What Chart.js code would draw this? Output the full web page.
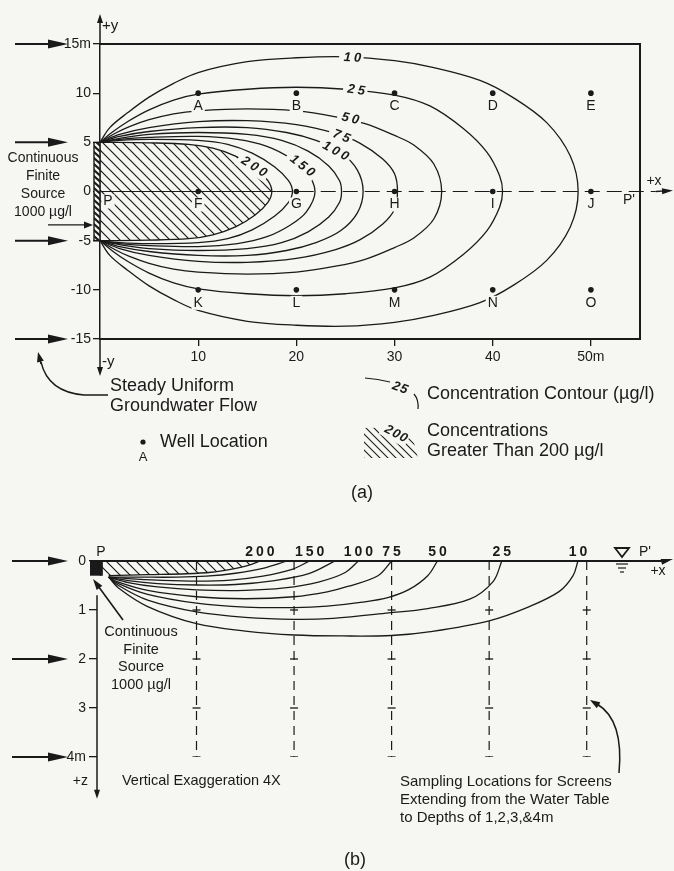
<!DOCTYPE html>
<html>
<head>
<meta charset="utf-8">
<title>Plume from a continuous finite source</title>
<script src="https://cdn.jsdelivr.net/npm/chart.js@4.4.1/dist/chart.umd.min.js"></script>
<style>
  html, body { margin: 0; padding: 0; background: #f6f6f3; }
  #page { position: relative; width: 674px; height: 871px; }
  #page canvas { position: absolute; left: 0; }
</style>
</head>
<body>
<div id="page">
  <canvas id="planChart" width="674" height="515" style="top:0"></canvas>
  <canvas id="sectionChart" width="674" height="356" style="top:515px"></canvas>
</div>
<script>
const ink = '#1a1a1a';
const paper = '#f6f6f3';
const sans = "'Liberation Sans', Arial, Helvetica, sans-serif";
Chart.defaults.font.family = sans;
Chart.defaults.color = ink;

// ---------- (a) plan view ----------
const planXTicks = [10, 20, 30, 40, 50];
const planXLabels = ['10', '20', '30', '40', '50m'];
const planYTicks = [-15, -10, -5, 0, 5, 10, 15];
const planYLabels = ['-15', '-10', '-5', '0', '5', '10', '15m'];
const flowArrowsA = [15, 5, -5, -15];

const wellNames = ['A', 'B', 'C', 'D', 'E', 'F', 'G', 'H', 'I', 'J', 'K', 'L', 'M', 'N', 'O'];
const wellX = [10, 20, 30, 40, 50, 10, 20, 30, 40, 50, 10, 20, 30, 40, 50];
const wellY = [10, 10, 10, 10, 10, 0, 0, 0, 0, 0, -10, -10, -10, -10, -10];

// upper half of each contour [x, y] in m, the plume is symmetric about y = 0
const planC10 = [[0, 5], [1, 6.5], [2.8, 8], [5, 9.6], [7.5, 11], [10, 12.1], [15, 13.2], [20, 13.6], [25, 13.7], [30, 13.3], [34, 12.6], [38.7, 11.3], [42, 9.6], [45.5, 7], [47.9, 3.6], [48.7, 0]];
const planC25 = [[0, 5], [1.2, 6], [2.8, 7.1], [5, 8.3], [7.5, 9.3], [10, 9.9], [15, 10.4], [20, 10.6], [25, 10.4], [30, 9.8], [33.6, 8.7], [37, 6.4], [39.4, 4], [40.7, 1.6], [41, 0]];
const planC50 = [[0, 5], [1.5, 5.9], [3, 6.6], [5, 7.3], [7.5, 7.9], [10, 8.2], [15, 8.4], [20, 8.2], [24, 7.6], [27, 6.9], [30, 5.7], [32, 4.7], [34, 2.8], [34.8, 0]];
const planC75 = [[0, 5], [2, 5.8], [5, 6.5], [10, 7.1], [15, 7.2], [20, 6.8], [24, 5.9], [26.5, 4.9], [28.8, 3.3], [30, 1.8], [30.3, 0]];
const planC100 = [[0, 5], [2, 5.6], [5, 6.1], [10, 6.5], [15, 6.5], [19, 6.0], [22, 5.2], [24.5, 4], [26.2, 2.2], [26.8, 0]];
const planC125 = [[0, 5], [2, 5.4], [5, 5.8], [10, 6.0], [15, 5.8], [18.5, 5.2], [21.2, 4.1], [23.3, 2.6], [24.4, 1.1], [24.6, 0]];
const planC150 = [[0, 5], [2, 5.3], [5, 5.5], [10, 5.6], [14, 5.3], [17, 4.6], [19.4, 3.4], [21, 2.1], [21.9, 0]];
const planC175 = [[0, 5], [2, 5.2], [5, 5.3], [10, 5.2], [13, 4.8], [15.5, 3.9], [17.8, 2.5], [19.2, 1.1], [19.6, 0]];
const planC200 = [[0, 5], [5, 4.95], [9, 4.8], [11.5, 4.4], [13.8, 3.6], [15.8, 2.4], [17.1, 1.1], [17.5, 0]];
const planContours = [planC10, planC25, planC50, planC75, planC100, planC125, planC150, planC175, planC200];

// contour values written on the curves
const planTags = [
  { text: '10', x: 25.7, y: 13.6, rot: 3 },
  { text: '25', x: 26.1, y: 10.3, rot: 8 },
  { text: '50', x: 25.5, y: 7.4, rot: 13 },
  { text: '75', x: 24.6, y: 5.6, rot: 22 },
  { text: '100', x: 24.0, y: 4.1, rot: 28 },
  { text: '150', x: 20.6, y: 2.6, rot: 38 },
  { text: '200', x: 15.7, y: 2.5, rot: 32 }
];

// ---------- (b) vertical section ----------
const sectZTicks = [0, 1, 2, 3, 4];
const sectZLabels = ['0', '1', '2', '3', '4m'];
const flowArrowsB = [0, 2, 4];
const screenX = [10, 20, 30, 40, 50];
const screenDepths = [1, 2, 3, 4];

// [x, z] in m, from the bottom of the source out to the water table
const sectC10 = [[1, 0.33], [2, 0.55], [5, 0.93], [10, 1.28], [15, 1.43], [20, 1.51], [25, 1.53], [30, 1.52], [34, 1.44], [40, 1.22], [44, 0.94], [47.2, 0.62], [48.6, 0.3], [49.1, 0]];
const sectC25 = [[1, 0.33], [2, 0.5], [5, 0.8], [10, 1.04], [15, 1.15], [20, 1.19], [24, 1.17], [29.7, 1.06], [33.7, 0.97], [38, 0.78], [40.4, 0.42], [41.3, 0]];
const sectC50 = [[1, 0.33], [2, 0.46], [5, 0.68], [10, 0.86], [15, 0.94], [20, 0.95], [23.4, 0.92], [27, 0.84], [29.7, 0.74], [31.8, 0.58], [33.7, 0.3], [34.7, 0]];
const sectC75 = [[1, 0.33], [2, 0.43], [5, 0.6], [10, 0.73], [15, 0.77], [20, 0.73], [23.4, 0.63], [25.5, 0.52], [28.6, 0.3], [30, 0]];
const sectC100 = [[1, 0.33], [3, 0.44], [6, 0.53], [10, 0.59], [15, 0.6], [19, 0.55], [22.5, 0.43], [25.2, 0.24], [26.6, 0]];
const sectC125 = [[1, 0.33], [3, 0.4], [6, 0.46], [10, 0.49], [14, 0.48], [18, 0.4], [21.5, 0.26], [24.2, 0]];
const sectC150 = [[1, 0.33], [3, 0.36], [6, 0.39], [10, 0.41], [13.5, 0.39], [16.8, 0.31], [19.8, 0.17], [21.6, 0]];
const sectC175 = [[1, 0.33], [4, 0.33], [8, 0.33], [11, 0.31], [14, 0.25], [16.8, 0.15], [19.3, 0]];
const sectC200 = [[1, 0.3], [5, 0.28], [9, 0.26], [11.5, 0.23], [13.5, 0.17], [15.3, 0.09], [16.5, 0]];
const sectContours = [sectC10, sectC25, sectC50, sectC75, sectC100, sectC125, sectC150, sectC175, sectC200];

const sectTagText = ['200', '150', '100', '75', '50', '25', '10'];
const sectTagX = [16.5, 21.6, 26.6, 30, 34.7, 41.3, 49.1];

// ---------- helpers ----------
const font = (size, style) => (style ? style + ' ' : '') + size + 'px ' + sans;

function hatchPattern(gap, lw) {
  const c = document.createElement('canvas');
  c.width = c.height = gap;
  const g = c.getContext('2d');
  g.strokeStyle = ink;
  g.lineWidth = lw;
  g.beginPath();
  g.moveTo(-2, -2); g.lineTo(gap + 2, gap + 2);
  g.moveTo(-2, gap - 2); g.lineTo(2, gap + 2);
  g.moveTo(gap - 2, -2); g.lineTo(gap + 2, 2);
  g.stroke();
  return g.createPattern(c, 'repeat');
}
const hatch = hatchPattern(10, 1.2);

function arrow(ctx, x1, y1, x2, y2, len, half, lw) {
  const a = Math.atan2(y2 - y1, x2 - x1);
  const c = Math.cos(a), s = Math.sin(a);
  ctx.lineWidth = lw;
  ctx.beginPath();
  ctx.moveTo(x1, y1);
  ctx.lineTo(x2 - len * 0.7 * c, y2 - len * 0.7 * s);
  ctx.stroke();
  ctx.beginPath();
  ctx.moveTo(x2, y2);
  ctx.lineTo(x2 - len * c - half * s, y2 - len * s + half * c);
  ctx.lineTo(x2 - len * c + half * s, y2 - len * s - half * c);
  ctx.closePath();
  ctx.fill();
}

function write(ctx, str, x, y, f, align) {
  ctx.font = f;
  ctx.textAlign = align || 'left';
  ctx.textBaseline = 'middle';
  ctx.fillText(str, x, y);
}

// letter with a small paper-coloured gap behind it
function letter(ctx, str, x, y, f) {
  ctx.font = f;
  const w = ctx.measureText(str).width;
  ctx.save();
  ctx.fillStyle = paper;
  ctx.fillRect(x - w / 2 - 2, y - 7, w + 4, 14);
  ctx.restore();
  write(ctx, str, x, y, f, 'center');
}

// number on a contour, with a paper-coloured gap behind it
function tag(ctx, str, x, y, rot, f, spacing, gapBg) {
  ctx.save();
  ctx.translate(x, y);
  ctx.rotate(rot * Math.PI / 180);
  ctx.font = f;
  ctx.letterSpacing = spacing + 'px';
  const w = ctx.measureText(str).width;
  if (gapBg) {
    ctx.fillStyle = paper;
    ctx.fillRect(-w / 2 - 3, -8, w + 4, 16);
  }
  ctx.fillStyle = ink;
  ctx.textAlign = 'center';
  ctx.textBaseline = 'middle';
  ctx.fillText(str, spacing / 2, 0);
  ctx.restore();
}

function closePlume(half) {
  const top = half.map(p => ({ x: p[0], y: p[1] }));
  const bottom = half.slice(0, -1).reverse().map(p => ({ x: p[0], y: -p[1] }));
  return top.concat(bottom);
}

const paperPlugin = {
  id: 'paper',
  beforeDraw(chart) {
    const { ctx, width, height } = chart;
    ctx.save();
    ctx.fillStyle = paper;
    ctx.fillRect(0, 0, width, height);
    ctx.restore();
  }
};

// ---------- (a) decorations ----------
const planDecor = {
  id: 'planDecor',
  afterDraw(chart) {
    const { ctx, chartArea: area, scales: { x, y } } = chart;
    const px = v => x.getPixelForValue(v);
    const py = v => y.getPixelForValue(v);
    const x0 = px(0);
    ctx.save();
    ctx.fillStyle = ink;
    ctx.strokeStyle = ink;

    // y axis carries on past the frame
    arrow(ctx, x0, area.top, x0, area.top - 30, 9, 3, 1.5);
    arrow(ctx, x0, area.bottom, x0, area.bottom + 37, 9, 3, 1.5);
    write(ctx, '+y', x0 + 2, area.top - 18, font(15));
    write(ctx, '-y', x0 + 2, area.bottom + 23, font(15));

    // groundwater flow arrows
    flowArrowsA.forEach(v => arrow(ctx, 15, py(v), 68, py(v), 20, 4.5, 2));
    arrow(ctx, 48, py(-3.4), x0 - 7, py(-3.4), 9, 3.5, 1.2);

    // source strip along x = 0
    const s1 = py(5), s2 = py(-5);
    ctx.save();
    ctx.beginPath();
    ctx.rect(x0 - 6, s1, 6, s2 - s1);
    ctx.fillStyle = paper;
    ctx.fill();
    ctx.clip();
    ctx.lineWidth = 2.2;
    for (let k = s1 - 10; k < s2 + 10; k += 6) {
      ctx.beginPath(); ctx.moveTo(x0 - 8, k); ctx.lineTo(x0 + 1, k + 8); ctx.stroke();
    }
    ctx.restore();
    ctx.lineWidth = 1.4;
    ctx.strokeRect(x0 - 6, s1, 6, s2 - s1);

    // +x arrow at the end of the centre line
    arrow(ctx, px(56.6), py(0), 673, py(0) - 1, 11, 3, 1.3);
    write(ctx, '+x', 654, py(0) - 10, font(14), 'center');
    letter(ctx, 'P', x0 + 8, py(0) + 10, font(14));
    write(ctx, "P'", 629, py(0) + 9, font(14), 'center');

    // well letters
    wellNames.forEach((n, i) => letter(ctx, n, px(wellX[i]), py(wellY[i]) + 13, font(14)));

    // contour values
    planTags.forEach(t => tag(ctx, t.text, px(t.x), py(t.y), t.rot, font(13, 'italic bold'), 3, true));

    // source description
    ['Continuous', 'Finite', 'Source', '1000 µg/l'].forEach((s, i) => write(ctx, s, 43, 158 + i * 18, font(14), 'center'));

    // legend: flow
    ctx.lineWidth = 1.4;
    ctx.beginPath();
    ctx.moveTo(108, 395);
    ctx.lineTo(84, 395);
    ctx.quadraticCurveTo(48, 392, 41, 362);
    ctx.stroke();
    arrow(ctx, 41, 364, 38, 352, 10, 3.5, 1.4);
    write(ctx, 'Steady Uniform', 110, 386, font(18));
    write(ctx, 'Groundwater Flow', 110, 406, font(18));

    // legend: well
    ctx.beginPath(); ctx.arc(143, 442, 2.6, 0, Math.PI * 2); ctx.fill();
    write(ctx, 'A', 143, 457, font(13), 'center');
    write(ctx, 'Well Location', 160, 442, font(18));

    // legend: contour
    ctx.lineWidth = 1.2;
    ctx.beginPath(); ctx.moveTo(365, 378); ctx.quadraticCurveTo(378, 379, 390, 382); ctx.stroke();
    tag(ctx, '25', 400, 388, 20, font(13, 'italic bold'), 1, false);
    ctx.beginPath(); ctx.moveTo(414, 394); ctx.quadraticCurveTo(419, 400, 418, 409); ctx.stroke();
    write(ctx, 'Concentration Contour (µg/l)', 427, 394, font(18));

    // legend: hatched area
    ctx.save();
    ctx.beginPath();
    ctx.moveTo(364, 428);
    ctx.quadraticCurveTo(402, 426, 414, 443);
    ctx.lineTo(418, 458);
    ctx.lineTo(364, 458);
    ctx.closePath();
    ctx.clip();
    ctx.lineWidth = 1.1;
    for (let k = -50; k < 70; k += 8) {
      ctx.beginPath(); ctx.moveTo(364 + k, 424); ctx.lineTo(400 + k, 460); ctx.stroke();
    }
    ctx.restore();
    tag(ctx, '200', 396, 434, 28, font(13, 'italic bold'), 1, true);
    write(ctx, 'Concentrations', 427, 431, font(18));
    write(ctx, 'Greater Than 200 µg/l', 427, 451, font(18));

    write(ctx, '(a)', 362, 493, font(18), 'center');
    ctx.restore();
  }
};

const lineSet = extra => Object.assign({
  showLine: true, borderColor: ink, borderWidth: 1.3, pointRadius: 0, fill: false
}, extra);

new Chart(document.getElementById('planChart'), {
  type: 'scatter',
  data: {
    datasets: [
      { data: wellX.map((v, i) => ({ x: v, y: wellY[i] })), pointRadius: 2.8, pointBackgroundColor: ink, pointBorderWidth: 0 },
      lineSet({ data: [{ x: 0, y: 0 }, { x: 18, y: 0 }], borderWidth: 1.2 }),
      lineSet({ data: [{ x: 18, y: 0 }, { x: 56.6, y: 0 }], borderWidth: 1.2, borderDash: [15, 7], clip: false }),
      ...planContours.map((half, i) => lineSet({
        data: closePlume(half),
        tension: 0.35,
        fill: i === planContours.length - 1 ? 'shape' : false,
        backgroundColor: i === planContours.length - 1 ? hatch : 'transparent'
      }))
    ]
  },
  options: {
    responsive: false,
    animation: false,
    devicePixelRatio: 1,
    events: [],
    layout: { padding: { left: 0, right: 34, top: 44, bottom: 146 } },
    plugins: { legend: { display: false }, tooltip: { enabled: false } },
    scales: {
      x: {
        type: 'linear', position: 'bottom', min: 0, max: 55,
        afterFit: s => { s.height = 30; },
        afterBuildTicks: s => { s.ticks = planXTicks.map(v => ({ value: v })); },
        ticks: { callback: v => planXLabels[planXTicks.indexOf(v)], font: { size: 14 }, color: ink, padding: 3, maxRotation: 0, autoSkip: false },
        grid: { drawOnChartArea: false, tickLength: 7, color: ink, lineWidth: 1.3 },
        border: { display: true, color: ink, width: 2 }
      },
      xTop: {
        type: 'linear', position: 'top', min: 0, max: 55,
        afterFit: s => { s.height = 0; },
        ticks: { display: false }, grid: { display: false },
        border: { display: true, color: ink, width: 2 }
      },
      y: {
        type: 'linear', position: 'left', min: -15, max: 15,
        afterFit: s => { s.width = 100; },
        afterBuildTicks: s => { s.ticks = planYTicks.map(v => ({ value: v })); },
        ticks: { callback: v => planYLabels[planYTicks.indexOf(v)], font: { size: 14 }, color: ink, padding: 2, autoSkip: false },
        grid: { drawOnChartArea: false, tickLength: 7, color: ink, lineWidth: 1.3 },
        border: { display: true, color: ink, width: 1.5 }
      },
      yRight: {
        type: 'linear', position: 'right', min: -15, max: 15,
        afterFit: s => { s.width = 0; },
        ticks: { display: false }, grid: { display: false },
        border: { display: true, color: ink, width: 2 }
      }
    }
  },
  plugins: [paperPlugin, planDecor]
});

// ---------- (b) decorations ----------
const sectDecor = {
  id: 'sectDecor',
  afterDraw(chart) {
    const { ctx, chartArea: area, scales: { x, y } } = chart;
    const px = v => x.getPixelForValue(v);
    const pz = v => y.getPixelForValue(v);
    const x0 = area.left;
    ctx.save();
    ctx.fillStyle = ink;
    ctx.strokeStyle = ink;

    // z axis, starting below the source
    arrow(ctx, x0, pz(0.7), x0, pz(4.85), 9, 3, 1.5);
    write(ctx, '+z', 88, 266, font(14), 'right');

    // source block at the water table
    ctx.fillRect(90, pz(0), px(0.4) - 90, pz(0.3) - pz(0));

    // +x arrow at the end of the water table line
    arrow(ctx, px(58), pz(0), 673, pz(0) - 2, 12, 3, 1.6);
    write(ctx, "P'", 645, 37, font(14), 'center');
    write(ctx, '+x', 658, 56, font(14), 'center');
    write(ctx, 'P', 101, 37, font(14), 'center');

    // water table symbol
    const wx = 622, wy = pz(0);
    ctx.lineWidth = 1.8;
    ctx.beginPath(); ctx.moveTo(wx - 7, wy - 13); ctx.lineTo(wx + 7, wy - 13); ctx.lineTo(wx, wy - 4); ctx.closePath(); ctx.stroke();
    ctx.lineWidth = 1.2;
    [[6, 3], [4, 7], [2, 11]].forEach(([w, d]) => {
      ctx.beginPath(); ctx.moveTo(wx - w, wy + d); ctx.lineTo(wx + w, wy + d); ctx.stroke();
    });

    // flow arrows
    flowArrowsB.forEach(v => arrow(ctx, 12, pz(v), 68, pz(v), 20, 4.5, 2));

    // contour values at the water table
    sectTagText.forEach((t, i) => tag(ctx, t, px(sectTagX[i]), pz(0) - 9, 0, font(14, 'bold'), 3, false));

    // source description and pointer
    ['Continuous', 'Finite', 'Source', '1000 µg/l'].forEach((s, i) => write(ctx, s, 141, 117 + i * 17.7, font(14.5), 'center'));
    arrow(ctx, 123, 105, 93, 64, 11, 3.5, 1.6);

    write(ctx, 'Vertical Exaggeration 4X', 122, 266, font(14.5));
    ['Sampling Locations for Screens', 'Extending from the Water Table', 'to Depths of 1,2,3,&4m'].forEach((s, i) => write(ctx, s, 400, 267 + i * 18, font(15)));
    ctx.lineWidth = 1.5;
    ctx.beginPath(); ctx.moveTo(619, 258); ctx.quadraticCurveTo(624, 205, 597, 189); ctx.stroke();
    arrow(ctx, 600, 191, 590, 185, 10, 3.5, 1.5);

    write(ctx, '(b)', 355, 345, font(18), 'center');
    ctx.restore();
  }
};

const hatchB = [{ x: 0, y: 0 }]
  .concat(sectC200.slice().reverse().map(p => ({ x: p[0], y: p[1] })))
  .concat([{ x: 0, y: 0.3 }]);

new Chart(document.getElementById('sectionChart'), {
  type: 'scatter',
  data: {
    datasets: [
      { data: screenX.flatMap(v => screenDepths.map(d => ({ x: v, y: d }))), pointStyle: 'line', pointRadius: 4, pointBorderColor: ink, pointBorderWidth: 1.3 },
      ...screenX.map(v => lineSet({ data: [{ x: v, y: 0 }, { x: v, y: 4 }], borderWidth: 1.2, borderDash: [9, 6] })),
      lineSet({ data: [{ x: -0.9, y: 0 }, { x: 58.3, y: 0 }], borderWidth: 2, clip: false }),
      ...sectContours.map(c => lineSet({ data: c.map(p => ({ x: p[0], y: p[1] })), tension: 0.35 })),
      lineSet({ data: hatchB, borderWidth: 0, tension: 0.25, fill: 'shape', backgroundColor: hatch })
    ]
  },
  options: {
    responsive: false,
    animation: false,
    devicePixelRatio: 1,
    events: [],
    layout: { padding: { left: 0, right: 19, top: 46, bottom: 114 } },
    plugins: { legend: { display: false }, tooltip: { enabled: false } },
    scales: {
      x: { type: 'linear', display: false, min: -0.2, max: 57 },
      y: {
        type: 'linear', position: 'left', reverse: true, min: 0, max: 4,
        afterFit: s => { s.width = 97; },
        afterBuildTicks: s => { s.ticks = sectZTicks.map(v => ({ value: v })); },
        ticks: { callback: v => sectZLabels[sectZTicks.indexOf(v)], font: { size: 14 }, color: ink, padding: 3, autoSkip: false },
        grid: { drawOnChartArea: false, tickLength: 8, color: ink, lineWidth: 1.3 },
        border: { display: false }
      }
    }
  },
  plugins: [paperPlugin, sectDecor]
});
</script>
</body>
</html>
